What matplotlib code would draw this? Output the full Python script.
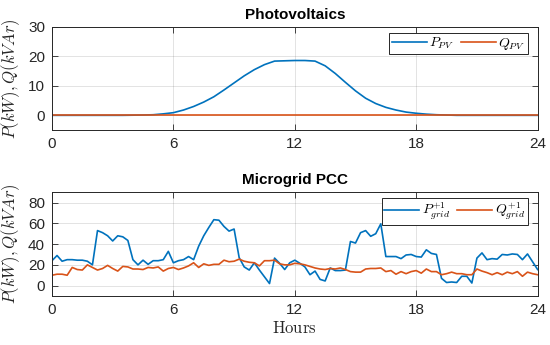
import numpy as np
import matplotlib
matplotlib.use("Agg")
import matplotlib.pyplot as plt

plt.rcParams['font.family'] = ['Liberation Sans', 'DejaVu Sans']
plt.rcParams['mathtext.fontset'] = 'cm'

# ---------------- data ----------------
pv_hours = np.arange(0, 24.01, 0.5)
p_pv = [0, 0, 0, 0, 0, 0, 0, 0,            # 0 - 3.5
        0.05, 0.1, 0.2, 0.5, 0.9, 1.8, 3.0, 4.5,   # 4 - 7.5
        6.3, 8.6, 11.0, 13.4, 15.5, 17.2, 18.4, 18.5,  # 8 - 11.5
        18.6, 18.6, 18.4, 16.8, 14.2, 11.2, 8.3, 5.8,  # 12 - 15.5
        4.0, 2.7, 1.8, 1.1, 0.7, 0.4, 0.2, 0.1,        # 16 - 19.5
        0, 0, 0, 0, 0, 0, 0, 0, 0]                     # 20 - 24
q_pv = [0.0] * len(p_pv)

grid_hours = np.arange(0, 24.01, 0.25)
p_grid_start = -15
q_grid_start = 40
p_grid = [24, 29, 23.5, 25, 25, 24.5, 24.5, 23.5, 20, 53, 51, 48, 43, 48, 47, 43.5,
          25, 20, 24.5, 20.5, 24, 24, 25, 33, 22, 24, 25, 28, 25, 38, 48, 56,
          63.5, 63, 57, 52.5, 54.5, 27, 18, 15, 22, 15, 8.5, 2, 26.5, 21.5, 15.5, 22,
          24.5, 21.5, 18, 10.5, 14, 6, 4.5, 17, 14.5, 14.5, 15, 42.5, 41, 51,
          53, 47.5, 50, 59.5, 28, 28, 28, 26, 29.5, 30, 28, 27.5, 34.5, 31, 30, 7,
          3, 3.5, 3, 9, 9, 2.5, 26.5, 31.5, 25, 26, 25.5, 30, 29.5, 30.5, 30, 25,
          30.5, 23, 15.5]
q_grid = [10, 11, 11, 10, 17.5, 15.5, 15, 20, 17.5, 15, 16.5, 19.5, 16.5, 14, 18.5, 18,
          16, 16, 15.5, 17.5, 17, 18, 14, 16.5, 17.5, 15.5, 17, 19, 22, 17.5, 21, 19.5,
          20.5, 20.5, 24.5, 23, 23.5, 25.5, 23.5, 22.5, 22, 19, 24, 24, 24.5, 21, 20, 20,
          21.5, 21, 20, 18.5, 17, 16, 15.5, 16.5, 16, 17, 15.5, 13.5, 13, 13,
          16, 16.5, 16.5, 17, 13.5, 14.5, 11, 13.5, 11.5, 13.5, 14.5, 12, 16, 13.5, 13.5, 10.5,
          11.5, 13, 11.5, 11.5, 10.5, 10.5, 16, 14, 12.5, 10.5, 12.5, 10.5, 13, 11.5, 13.5, 9,
          13, 11.5, 10.5]

x_ticks = [0, 6, 12, 18, 24]
pv_yticks = [0, 10, 20, 30]
grid_yticks = [0, 20, 40, 60, 80]

BLUE = '#0072BD'
ORANGE = '#D95319'
DARK = '#262626'

fig = plt.figure(figsize=(5.5, 3.45), dpi=100)
ax1 = fig.add_axes([0.0945, 0.623, 0.883, 0.299])
ax2 = fig.add_axes([0.0945, 0.142, 0.883, 0.301])

def style(ax, yticks, ylim):
    ax.set_xlim(0, 24)
    ax.set_ylim(*ylim)
    ax.set_xticks(x_ticks)
    ax.set_yticks(yticks)
    ax.grid(True, color=DARK, alpha=0.15, linewidth=0.6)
    ax.set_axisbelow(True)
    ax.tick_params(direction='in', top=True, right=True, length=4, width=0.6,
                   colors=DARK, labelsize=11, pad=5)
    for s in ax.spines.values():
        s.set_color(DARK)
        s.set_linewidth(0.7)
    ax.set_ylabel(r'$P(kW),Q(kVAr)$', fontsize=12, color=DARK, labelpad=4)

def legend(ax):
    leg = ax.legend(loc='upper right', bbox_to_anchor=(0.980, 0.942), ncol=2,
                    fontsize=10, frameon=True, fancybox=False, edgecolor=DARK,
                    framealpha=1, handlelength=2.5, columnspacing=0.5,
                    handletextpad=0.2, borderpad=0.2, borderaxespad=0.0)
    leg.get_frame().set_linewidth(0.7)
    return leg

ax1.plot(pv_hours, p_pv, color=BLUE, lw=1.2, label=r'$P_{PV}$')
ax1.plot(pv_hours, q_pv, color=ORANGE, lw=1.2, label=r'$Q_{PV}$')
style(ax1, pv_yticks, (-5, 30))
ax1.set_title('Photovoltaics', fontsize=11, fontweight='bold', pad=6)
legend(ax1)

ax2.plot(np.concatenate([[0], grid_hours]), [p_grid_start] + p_grid,
         color=BLUE, lw=1.2, label=r'$P^{+1}_{grid}$')
ax2.plot(np.concatenate([[0], grid_hours]), [q_grid_start] + q_grid,
         color=ORANGE, lw=1.2, label=r'$Q^{+1}_{grid}$')
style(ax2, grid_yticks, (-10, 90))
ax2.set_title('Microgrid PCC', fontsize=11, fontweight='bold', pad=6)
ax2.set_xlabel(r'$\mathrm{Hours}$', fontsize=12, color=DARK, labelpad=2)
legend(ax2)

fig.savefig('out.png', dpi=100)
